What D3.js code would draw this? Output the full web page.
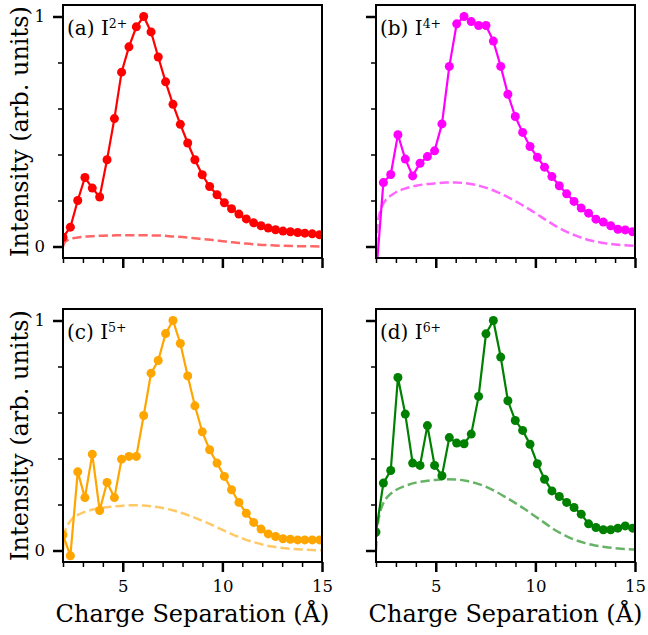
<!DOCTYPE html>
<html>
<head>
<meta charset="utf-8">
<script src="https://cdn.jsdelivr.net/npm/d3@7/dist/d3.min.js"></script>
<style>
  body { margin: 0; background: #fff; }
  text { font-family: "DejaVu Serif", serif; fill: #000; }
</style>
</head>
<body>
<svg id="chart" width="648" height="635"></svg>
<script>
// charge separation (Å) of the measured points, shared by all panels
const chargeSep = [2.00, 2.37, 2.74, 3.10, 3.47, 3.84, 4.21, 4.58, 4.94, 5.31, 5.68, 6.05,
  6.42, 6.78, 7.15, 7.52, 7.89, 8.26, 8.62, 8.99, 9.36, 9.73, 10.10, 10.46,
  10.83, 11.20, 11.57, 11.94, 12.30, 12.67, 13.04, 13.41, 13.78, 14.14, 14.51, 14.88];

const i2Values = [0.04, 0.084, 0.2, 0.30, 0.254, 0.215, 0.377, 0.556, 0.758, 0.868, 0.955, 1.0,
  0.933, 0.824, 0.716, 0.618, 0.531, 0.45, 0.377, 0.312, 0.261, 0.225, 0.19, 0.164,
  0.141, 0.12, 0.103, 0.09, 0.08, 0.073, 0.067, 0.064, 0.061, 0.058, 0.055, 0.051];
const i4Values = [-0.13, 0.278, 0.313, 0.486, 0.38, 0.307, 0.362, 0.391, 0.416, 0.533, 0.783, 0.968,
  1.0, 0.978, 0.961, 0.961, 0.893, 0.783, 0.662, 0.565, 0.496, 0.435, 0.388, 0.345,
  0.304, 0.264, 0.229, 0.196, 0.167, 0.145, 0.119, 0.106, 0.09, 0.075, 0.072, 0.064];
const i5Values = [0.068, -0.023, 0.342, 0.230, 0.419, 0.174, 0.296, 0.230, 0.397, 0.409, 0.409, 0.587,
  0.771, 0.826, 0.943, 1.0, 0.9, 0.759, 0.629, 0.516, 0.438, 0.38, 0.322, 0.264,
  0.209, 0.162, 0.122, 0.093, 0.072, 0.061, 0.051, 0.049, 0.046, 0.046, 0.046, 0.046];
const i6Values = [0.08, 0.293, 0.348, 0.752, 0.593, 0.38, 0.37, 0.543, 0.37, 0.325, 0.491, 0.467,
  0.464, 0.506, 0.67, 0.942, 1.0, 0.841, 0.651, 0.565, 0.522, 0.462, 0.377, 0.31,
  0.259, 0.235, 0.209, 0.187, 0.158, 0.116, 0.1, 0.09, 0.09, 0.097, 0.107, 0.097];

// dashed model curves
const modelSep = [2.0, 2.05, 2.1, 2.2, 2.3, 2.5, 2.75, 3.0, 3.5, 4.0, 4.5, 5.0, 5.5, 6.0, 6.5, 7.0,
  7.5, 8.0, 8.5, 9.0, 9.5, 10.0, 10.5, 11.0, 11.5, 12.0, 12.5, 13.0, 13.5, 14.0, 14.5, 15.0];
const i2Model = [0, 0.012, 0.02, 0.026, 0.031, 0.036, 0.039, 0.042, 0.045, 0.047, 0.048, 0.049,
  0.049, 0.049, 0.048, 0.047, 0.044, 0.041, 0.037, 0.032, 0.028, 0.023, 0.018, 0.014,
  0.01, 0.007, 0.005, 0.003, 0.002, 0.001, 0.001, 0.0];
const i4Model = [0, 0.07, 0.11, 0.15, 0.175, 0.203, 0.222, 0.236, 0.253, 0.264, 0.271, 0.275,
  0.278, 0.278, 0.275, 0.268, 0.256, 0.24, 0.22, 0.197, 0.172, 0.145, 0.117, 0.09,
  0.067, 0.048, 0.033, 0.022, 0.014, 0.009, 0.005, 0.003];
const i5Model = [0, 0.05, 0.08, 0.105, 0.12, 0.142, 0.155, 0.165, 0.178, 0.186, 0.191, 0.195,
  0.197, 0.196, 0.192, 0.185, 0.175, 0.162, 0.146, 0.129, 0.11, 0.09, 0.07, 0.053,
  0.038, 0.026, 0.017, 0.011, 0.007, 0.004, 0.002, 0.001];
const i6Model = [0, 0.08, 0.12, 0.165, 0.192, 0.225, 0.248, 0.263, 0.282, 0.295, 0.302, 0.307,
  0.31, 0.309, 0.303, 0.293, 0.278, 0.257, 0.232, 0.206, 0.178, 0.148, 0.118, 0.088,
  0.065, 0.046, 0.032, 0.022, 0.015, 0.01, 0.006, 0.004];

const panelTags = ["(a)", "(b)", "(c)", "(d)"];
const ionCharges = ["2+", "4+", "5+", "6+"];
const seriesColors = ["red", "magenta", "orange", "green"];
const xMajorTicks = [5, 10, 15];
const xMinorTicks = [2, 3, 4, 6, 7, 8, 9, 11, 12, 13, 14];
const yMajorTicks = [0, 1];
const yMinorTicks = [0.2, 0.4, 0.6, 0.8];

const series = [i2Values, i4Values, i5Values, i6Values];
const models = [i2Model, i4Model, i5Model, i6Model];

const plotW = 259, plotH = 253;
const lefts = [63, 376, 63, 376];
const tops = [5, 5, 309, 309];

const svg = d3.select("#chart");

const x = d3.scaleLinear().domain([2, 15]).range([0, plotW]);
const y = d3.scaleLinear().domain([-0.05, 1.05]).range([plotH, 0]);

const line = d3.line().x(d => x(d[0])).y(d => y(d[1]));

series.forEach((vals, i) => {
  const g = svg.append("g").attr("transform", `translate(${lefts[i]},${tops[i]})`);
  const clipId = "clip" + i;
  g.append("clipPath").attr("id", clipId)
    .append("rect").attr("width", plotW).attr("height", plotH);

  const plot = g.append("g").attr("clip-path", `url(#${clipId})`);
  const pts = chargeSep.map((c, k) => [c, vals[k]]);
  const modelPts = modelSep.map((c, k) => [c, models[i][k]]);

  plot.append("path")
    .datum(modelPts)
    .attr("d", line.curve(d3.curveMonotoneX))
    .attr("fill", "none")
    .attr("stroke", seriesColors[i])
    .attr("stroke-opacity", 0.6)
    .attr("stroke-width", 2.5)
    .attr("stroke-dasharray", "9.25,4");

  plot.append("path")
    .datum(pts)
    .attr("d", line.curve(d3.curveLinear))
    .attr("fill", "none")
    .attr("stroke", seriesColors[i])
    .attr("stroke-width", 2.2);

  plot.selectAll("circle")
    .data(pts)
    .enter()
    .append("circle")
    .attr("cx", d => x(d[0]))
    .attr("cy", d => y(d[1]))
    .attr("r", 4.5)
    .attr("fill", seriesColors[i]);

  const showX = i >= 2, showY = i % 2 === 0;

  // axes
  const xMajor = g.append("g").attr("transform", `translate(0,${plotH})`)
    .call(d3.axisBottom(x).tickValues(xMajorTicks).tickSize(10).tickPadding(8)
      .tickFormat(showX ? d3.format("d") : () => ""));
  const xMinor = g.append("g").attr("transform", `translate(0,${plotH})`)
    .call(d3.axisBottom(x).tickValues(xMinorTicks).tickSize(5).tickFormat(() => ""));
  const yMajor = g.append("g")
    .call(d3.axisLeft(y).tickValues(yMajorTicks).tickSize(10).tickPadding(8)
      .tickFormat(showY ? d3.format("d") : () => ""));
  const yMinor = g.append("g")
    .call(d3.axisLeft(y).tickValues(yMinorTicks).tickSize(5).tickFormat(() => ""));

  [xMajor, xMinor, yMajor, yMinor].forEach(a => {
    a.select(".domain").remove();
    a.selectAll("text").style("font-size", "16.5px").style("font-family", "DejaVu Serif");
  });
  [xMajor, yMajor].forEach(a => a.selectAll("line").attr("stroke", "#000").attr("stroke-width", 2.5));
  [xMinor, yMinor].forEach(a => a.selectAll("line").attr("stroke", "#000").attr("stroke-width", 1.5));

  g.append("rect")
    .attr("width", plotW).attr("height", plotH)
    .attr("fill", "none").attr("stroke", "#000").attr("stroke-width", 2);

  const tag = g.append("text").attr("x", 4).attr("y", 30).style("font-size", "20px");
  tag.append("tspan").text(panelTags[i] + " I");
  tag.append("tspan").attr("dy", -7).style("font-size", "12.5px").text(ionCharges[i]);

  if (showX) {
    g.append("text")
      .attr("x", plotW / 2).attr("y", plotH + 60)
      .attr("text-anchor", "middle")
      .style("font-size", "24px")
      .text("Charge Separation (Å)");
  }
  if (showY) {
    g.append("text")
      .attr("transform", `translate(${28 - lefts[i]},${plotH / 2}) rotate(-90)`)
      .attr("text-anchor", "middle")
      .style("font-size", "24px")
      .text("Intensity (arb. units)");
  }
});
</script>
</body>
</html>
